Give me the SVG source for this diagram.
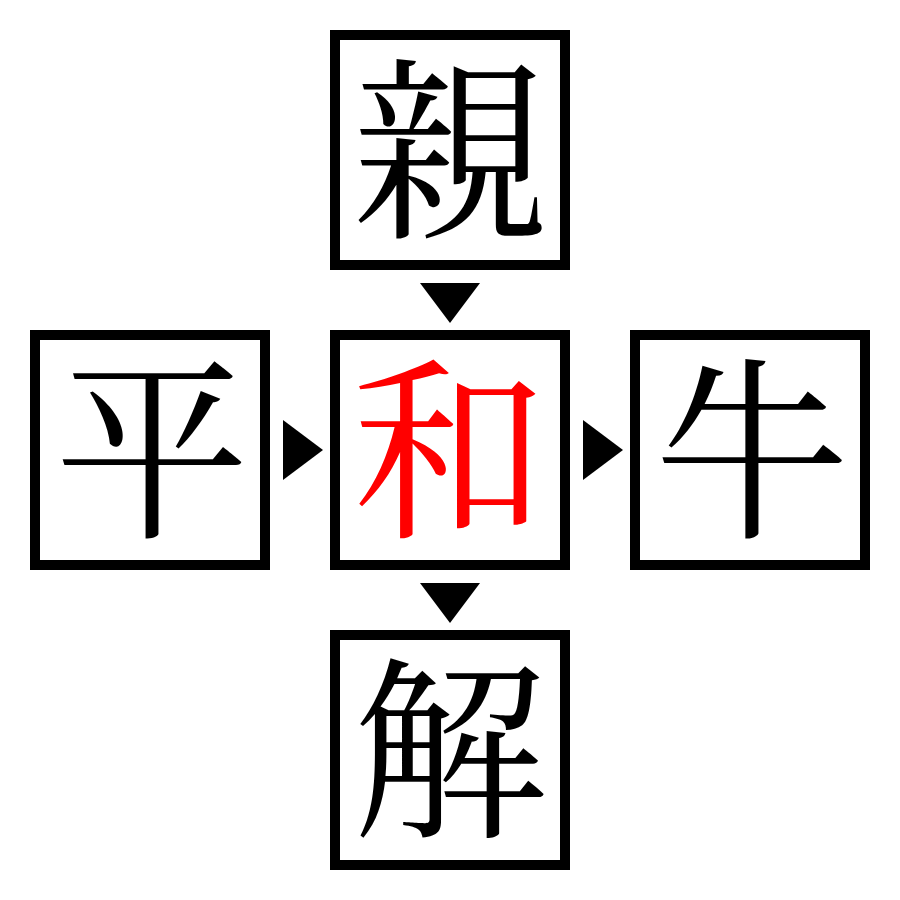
<svg xmlns="http://www.w3.org/2000/svg" width="900" height="900" viewBox="0 0 900 900">
<style>
.box{fill:#fff;stroke:#000;stroke-width:10}
.ch{font-family:"Noto Serif CJK JP","Noto Sans CJK JP","Liberation Serif",serif;font-size:195px;text-anchor:middle;fill:#000}
.red{fill:#f00}
.arr{fill:#000}
</style>
<rect width="900" height="900" fill="#fff"/>
<g id="connectors">
<polygon class="arr" points="420,283 480,283 450,323"/>
<polygon class="arr" points="283,420 323,450 283,480"/>
<polygon class="arr" points="583,420 623,450 583,480"/>
<polygon class="arr" points="420,583 480,583 450,623"/>
</g>
<g id="node-top"><rect class="box" x="335" y="35" width="230" height="230"/><text class="ch" x="450" y="223">親</text></g>
<g id="node-left"><rect class="box" x="35" y="335" width="230" height="230"/><text class="ch" x="152" y="523">平</text></g>
<g id="node-center"><rect class="box" x="335" y="335" width="230" height="230"/><text class="ch red" x="450" y="523">和</text></g>
<g id="node-right"><rect class="box" x="635" y="335" width="230" height="230"/><text class="ch" x="752" y="523">牛</text></g>
<g id="node-bottom"><rect class="box" x="335" y="635" width="230" height="230"/><text class="ch" x="450" y="823">解</text></g>
</svg>
